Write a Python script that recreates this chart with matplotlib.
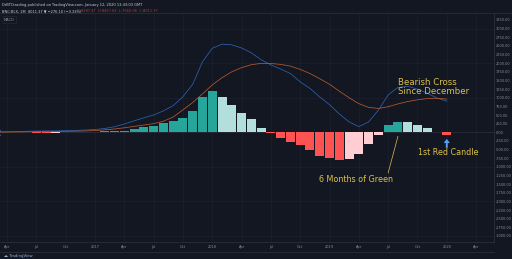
import numpy as np
import matplotlib.pyplot as plt
from matplotlib.lines import Line2D

# monthly MACD on BNC:BLX, months counted from Jan 2016 (0) to Jan 2020 (48)
months = list(range(2, 49))

hist = [10, 15, 12, 8, -10, -25, -15, -5, 10, 15, 20, 25, 35, 50,
        95, 160, 182, 260, 327, 423, 625, 1030,
        1204, 1013, 790, 567, 376, 133, -20, -155, -290, -375, -510, -685,
        -755, -800, -760, -630, -340, -80, 210, 305, 290, 200, 115, 10,
        -80]

macd = [10, 15, 20, 30, 35, 40, 40, 45, 55, 65, 80, 110, 160, 240,
        330, 420, 500, 620, 770, 1030, 1390, 2040,
        2430, 2550, 2530, 2440, 2300, 2100, 1950, 1830, 1700, 1460, 1270, 1020,
        800, 530, 300, 165, 300, 640, 1080, 1300, 1330, 1250, 1130, 990,
        900]

signal = [5, 8, 10, 14, 18, 22, 25, 28, 32, 38, 50, 70, 95, 130,
          170, 210, 250, 320, 440, 650, 860, 1110,
          1370, 1580, 1750, 1870, 1955, 1995, 1990, 1965, 1915, 1820, 1700, 1550,
          1390, 1190, 1000, 830, 720, 690, 740, 820, 890, 940, 975, 985,
          960]

tick_months = list(range(3, 52, 3))
tick_labels = ['Apr', 'Jul', 'Oct', '2017', 'Apr', 'Jul', 'Oct', '2018', 'Apr',
               'Jul', 'Oct', '2019', 'Apr', 'Jul', 'Oct', '2020', 'Apr']

BG = '#131722'
GRID = '#1d2130'
TXT = '#8a8e99'
NOTE = '#dcc04a'
MARK = '#5b9cf6'

# TradingView style histogram colours: growing / falling above and below zero
colors = []
prev = 0
for v in hist:
    if v >= 0:
        colors.append('#26a69a' if v > prev else '#b2dfdb')
    else:
        colors.append('#ff5252' if v < prev else '#ffcdd2')
    prev = v

fig = plt.figure(figsize=(5.12, 2.59), dpi=100, facecolor=BG)
ax = fig.add_axes([0.0, 0.0656, 0.965, 0.8844], facecolor=BG)

ax.bar(months, hist, width=0.92, color=colors, linewidth=0, zorder=2)
ax.axhline(0, color='#2a2e39', lw=0.5, zorder=1)
ax.plot(months, macd, color='#2b62b0', lw=0.55, zorder=3)
ax.plot(months, signal, color='#b55a2b', lw=0.55, zorder=3)

ax.set_xlim(2.28, 52.84)
ax.set_ylim(-3175, 3453)

ax.set_xticks(tick_months)
ax.set_xticklabels(tick_labels)
ax.yaxis.tick_right()
yt = np.arange(-3000, 3251, 250)
ax.set_yticks(yt)
ax.set_yticklabels(['%.2f' % v for v in yt])
ax.tick_params(axis='both', length=0, labelsize=2.5, labelcolor=TXT)
ax.tick_params(axis='x', pad=2)
ax.tick_params(axis='y', pad=1.2)

for m in tick_months:
    ax.axvline(m, color=GRID, lw=0.5, zorder=0)
for v in range(-3000, 3001, 1000):
    ax.axhline(v, color=GRID, lw=0.5, zorder=0)

for s in ['top', 'left']:
    ax.spines[s].set_visible(False)
ax.spines['right'].set_color('#2a2e39')
ax.spines['bottom'].set_color('#2a2e39')
ax.spines['right'].set_linewidth(0.6)
ax.spines['bottom'].set_linewidth(0.6)

# annotations
m_cross = months[hist.index(10)]
m_red = months[-1]
ax.plot(m_cross, signal[months.index(m_cross)] - 30, marker='x', color=MARK,
        ms=4.5, mew=1.6, zorder=5)
ax.text(43.0, 1316, 'Bearish Cross\nSince December', color=NOTE, fontsize=6.2,
        ha='left', va='center', linespacing=0.95)
ax.annotate('', xy=(m_red, -190), xytext=(m_red, -450),
            arrowprops=dict(width=1.4, headwidth=4.5, headlength=3,
                            color=MARK, lw=0))
ax.text(45.06, -585, '1st Red Candle', color=NOTE, fontsize=5.8,
        ha='left', va='center')
ax.text(38.76, -1366, '6 Months of Green', color=NOTE, fontsize=5.8,
        ha='center', va='center')
ax.plot([42.0, 43.0], [-1175, -120], color=NOTE, lw=0.5, zorder=4)

# header
fig.text(0.004, 0.988, 'DrBTCtrading published on TradingView.com, January 12, 2020 13:43:03 GMT',
         color='#c9ccd4', fontsize=2.6, ha='left', va='top')
fig.text(0.004, 0.965, 'BNC:BLX, 1M  8011.37 \u25bc \u2212276.10 (\u22123.33%)',
         color='#c9ccd4', fontsize=2.6, ha='left', va='top')
fig.text(0.150, 0.965, 'O:8287.47  H:8457.82  L:7660.06  C:8011.37',
         color='#b83a3a', fontsize=2.6, ha='left', va='top')
fig.text(0.008, 0.932, 'MACD', color=TXT, fontsize=2.6, ha='left', va='top',
         bbox=dict(boxstyle='square,pad=0.4', fc=BG, ec='#2a2e39', lw=0.4))
fig.add_artist(Line2D([0, 1], [0.951, 0.951], transform=fig.transFigure,
                      color='#2a2e39', lw=0.6))
fig.add_artist(Line2D([0, 0.965], [0.028, 0.028], transform=fig.transFigure,
                      color='#2a2e39', lw=0.6))
fig.text(0.008, 0.012, '\u2601 TradingView', color='#8fb4e8', fontsize=2.8,
         ha='left', va='center')

fig.savefig('out.png', dpi=100, facecolor=BG)
